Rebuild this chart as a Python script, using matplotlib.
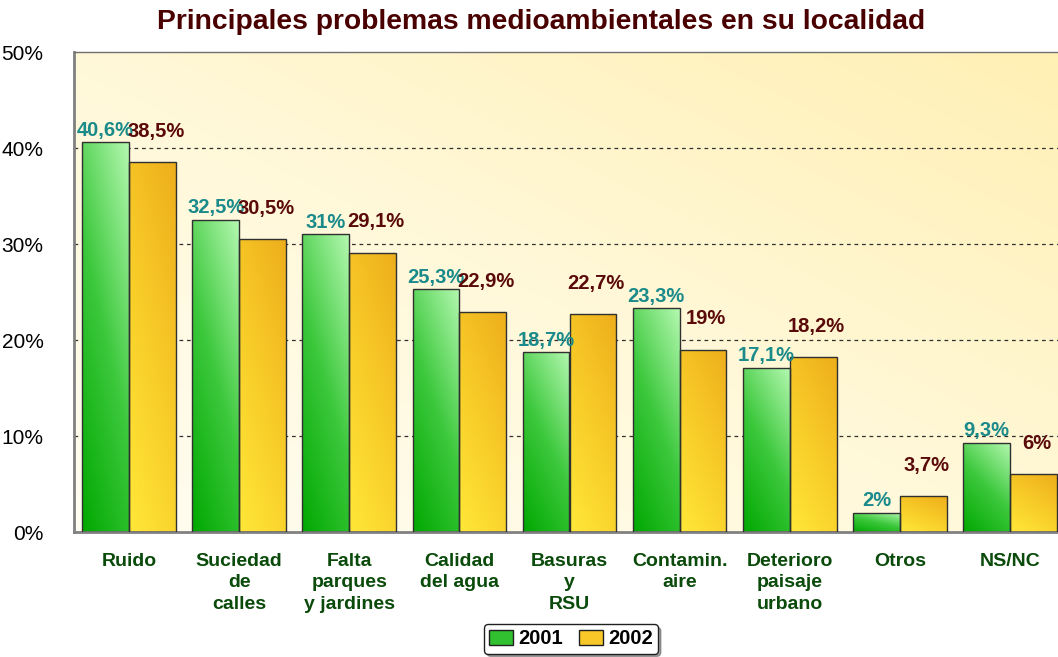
import numpy as np
import matplotlib
matplotlib.use('Agg')
from matplotlib import pyplot as plt
from matplotlib.colors import LinearSegmentedColormap
from matplotlib.patches import Patch

categorias = ['Ruido', 'Suciedad\nde\ncalles', 'Falta\nparques\ny jardines',
              'Calidad\ndel agua', 'Basuras\ny\nRSU', 'Contamin.\naire',
              'Deterioro\npaisaje\nurbano', 'Otros', 'NS/NC']
v2001 = [40.6, 32.5, 31, 25.3, 18.7, 23.3, 17.1, 2, 9.3]
v2002 = [38.5, 30.5, 29.1, 22.9, 22.7, 19, 18.2, 3.7, 6]
etiq2001 = ['40,6%', '32,5%', '31%', '25,3%', '18,7%', '23,3%', '17,1%', '2%', '9,3%']
etiq2002 = ['38,5%', '30,5%', '29,1%', '22,9%', '22,7%', '19%', '18,2%', '3,7%', '6%']
yticks = [0, 10, 20, 30, 40, 50]

plt.rcParams['font.family'] = ['Liberation Sans', 'DejaVu Sans']

cm_verde = LinearSegmentedColormap.from_list('verde', ['#00a800', '#3cc83c', '#b4f8b0'])
cm_amar = LinearSegmentedColormap.from_list('amar', ['#ffe838', '#f8cc28', '#eeae1c'])
cm_fondo = LinearSegmentedColormap.from_list('fondo', ['#fffdf2', '#fff8d8', '#fff0b4'])

fig = plt.figure(figsize=(10.58, 6.57), dpi=100)
ax = fig.add_axes([74/1058, 1-532/657, (1065-74)/1058, (532-52)/657])

# fondo degradado
gx, gy = np.meshgrid(np.linspace(0, 1, 200), np.linspace(0, 1, 200))
ax.imshow((gx + gy) / 2, cmap=cm_fondo, extent=(0, 1, 0, 1), transform=ax.transAxes,
          aspect='auto', origin='lower', zorder=0)

x = np.arange(len(categorias))
w = 47/110.5

def barras_degradado(xs, vals, cmap):
    bars = ax.bar(xs, vals, width=w, facecolor='none', edgecolor='#303030',
                  linewidth=1.0, zorder=3)
    for b in bars:
        x0, y0 = b.get_x(), b.get_y()
        bw, bh = b.get_width(), b.get_height()
        im = ax.imshow((gx * 0.35 + gy * 0.65), cmap=cmap, aspect='auto', origin='lower',
                       extent=(x0, x0 + bw, y0, y0 + bh), zorder=2)
        im.set_clip_path(b)
    return bars

barras_degradado(x - w/2, v2001, cm_verde)
barras_degradado(x + w/2, v2002, cm_amar)

for i in range(len(x)):
    ax.text(x[i] - w/2, v2001[i] + 1.25, etiq2001[i], ha='center', va='center',
            fontsize=14.5, fontweight='bold', color='#1a8a8a', zorder=5)
    ax.text(x[i] + w/2 + 0.03, v2002[i] + 3.2, etiq2002[i], ha='center', va='center',
            fontsize=14.5, fontweight='bold', color='#5a0a0a', zorder=5)

ax.set_xlim(-0.5, len(x) - 0.5)
ax.set_ylim(0, 50)
ax.set_yticks(yticks)
ax.set_yticklabels([f'{t}%' for t in yticks], fontsize=15)
ax.set_xticks(x)
ax.set_xticklabels(categorias, fontsize=14, fontweight='bold', color='#0a4a0a',
                   linespacing=1.35, va='top')
ax.tick_params(axis='y', length=0, pad=22)
ax.tick_params(axis='x', length=0, pad=15)

for t in [10, 20, 30, 40]:
    ax.axhline(t, color='#303030', linestyle=(0, (3, 3)), linewidth=0.9, zorder=1)

for s in ['left', 'bottom']:
    ax.spines[s].set_color('#808080')
    ax.spines[s].set_linewidth(2)
ax.spines['top'].set_color('#707070')
ax.spines['top'].set_linewidth(1)
ax.spines['right'].set_visible(False)

fig.text(541/1058, 1-22/657, 'Principales problemas medioambientales en su localidad',
         ha='center', va='center', fontsize=20.3, fontweight='bold', color='#4a0000')

handles = [Patch(facecolor='#30c030', edgecolor='#202020', label='2001'),
           Patch(facecolor='#f8c828', edgecolor='#202020', label='2002')]
leg = fig.legend(handles=handles, loc='center', bbox_to_anchor=(571/1058, 1-639/657),
                 ncol=2, prop={'weight': 'bold', 'size': 14.5},
                 frameon=True, fancybox=True, shadow=True, handlelength=1.2,
                 handleheight=0.7, handletextpad=0.25, columnspacing=0.8,
                 borderpad=0.25)
leg.get_frame().set_edgecolor('#202020')
leg.get_frame().set_linewidth(1.0)

fig.savefig('out.png', dpi=100)
